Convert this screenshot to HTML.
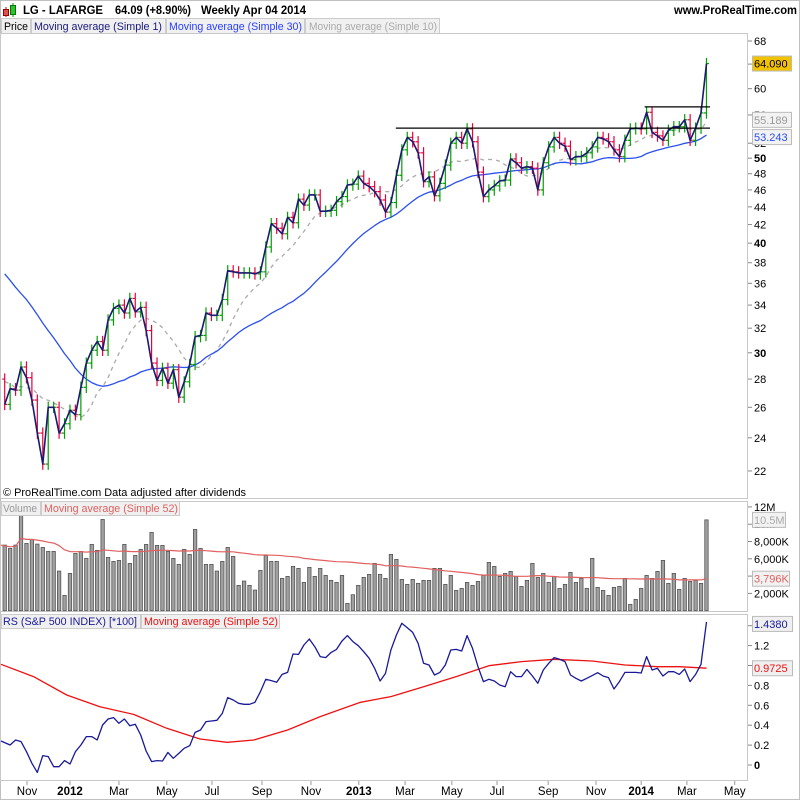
<!DOCTYPE html>
<html><head><meta charset="utf-8"><title>LG - LAFARGE weekly</title>
<style>
html,body{margin:0;padding:0;background:#fff;}
body{width:800px;height:800px;overflow:hidden;font-family:"Liberation Sans",Arial,sans-serif;}
svg text{font-family:"Liberation Sans",Arial,sans-serif;}
</style></head>
<body>
<svg id="chart" width="800" height="800" viewBox="0 0 800 800" xmlns="http://www.w3.org/2000/svg">
  <rect x="0.5" y="0.5" width="799" height="799" fill="#fff" stroke="#c0c0c0"/>
  <g>
    <g>
      <line x1="6" y1="7" x2="6" y2="17" stroke="#c00"/><rect x="3.5" y="9.5" width="5" height="6" fill="#e05050" stroke="#900"/>
      <line x1="13" y1="3" x2="13" y2="17" stroke="#080"/><rect x="10.5" y="5.5" width="5" height="9" fill="#30c030" stroke="#070"/>
    </g>
    <text x="23" y="14" font-size="12" font-weight="bold" fill="#000" textLength="80" lengthAdjust="spacingAndGlyphs">LG - LAFARGE</text>
    <text x="115" y="14" font-size="12" font-weight="bold" fill="#000" textLength="76" lengthAdjust="spacingAndGlyphs">64.09 (+8.90%)</text>
    <text x="201" y="14" font-size="12" font-weight="bold" fill="#000" textLength="105" lengthAdjust="spacingAndGlyphs">Weekly  Apr 04 2014</text>
    <text x="674" y="14" font-size="12" font-weight="bold" fill="#000" textLength="123" lengthAdjust="spacingAndGlyphs">www.ProRealTime.com</text>
  </g>
  <g font-size="11">
    <rect x="1.5" y="18.5" width="29" height="15" fill="#f0f0f0" stroke="#ccc"/>
    <text x="4" y="30" fill="#000" textLength="24" lengthAdjust="spacingAndGlyphs">Price</text>
    <rect x="31.5" y="18.5" width="134" height="15" fill="#f0f0f0" stroke="#ccc"/>
    <text x="34" y="30" fill="#1a1a80" textLength="128" lengthAdjust="spacingAndGlyphs">Moving average (Simple 1)</text>
    <rect x="166.5" y="18.5" width="138" height="15" fill="#f0f0f0" stroke="#ccc"/>
    <text x="169" y="30" fill="#2a40ff" textLength="133" lengthAdjust="spacingAndGlyphs">Moving average (Simple 30)</text>
    <rect x="305.5" y="18.5" width="134" height="15" fill="#f0f0f0" stroke="#ccc"/>
    <text x="309" y="30" fill="#aaa" textLength="128" lengthAdjust="spacingAndGlyphs">Moving average (Simple 10)</text>
  </g>
  <g id="panels"></g>
</svg>
<script>
// ---- data ----
const closes = [26.2,27.3,27.2,28.9,28.1,26.5,24.3,22.4,26.0,26.0,24.3,24.9,25.8,25.5,27.4,29.2,30.2,30.9,30.2,32.7,33.7,34.0,33.3,34.6,33.4,33.8,31.8,29.2,27.9,28.8,27.7,28.7,26.7,27.8,
29.1,31.3,31.4,33.3,33.1,33.1,34.5,37.2,37.1,37.0,37.0,37.0,36.9,37.1,39.6,42.1,41.6,41.0,42.8,42.2,44.9,44.2,45.4,45.4,43.5,43.5,43.6,44.6,45.2,46.6,46.7,47.7,46.8,46.4,45.8,44.8,43.4,44.5,47.8,51.1,
52.8,52.2,50.7,47.0,47.6,45.3,46.8,49.1,52.0,52.8,52.0,54.0,52.2,48.2,45.2,46.0,46.5,47.1,47.2,49.9,49.4,48.7,48.9,48.7,46.0,49.4,51.5,52.8,52.0,51.6,49.8,50.2,50.2,50.7,51.5,52.8,52.6,52.2,
51.1,50.2,52.4,54.0,54.1,54.0,56.4,53.5,53.0,52.4,53.8,54.3,54.3,55.3,52.4,54.1,56.3,64.09];
const priorCloses = [46,47,46,45,46,45,44,45,44,43,44,42,43,41,40,38,36,33,31,30,29,30,28,29,27,28,26,27,28];
const volumes = [7585,7200,7585,11050,7777,8239,7700,7315,6853,6853,4582,1771,4312,6622,6853,6045,7662,6969,10549,6160,5698,5814,7662,5467,6391,7084,7662,9048,7546,7546,6853,6045,5352,7084,6507,9394,7200,5352,5352,4582,5698,7315,6276,2926,3427,2926,2387,4659,6391,5698,5698,3735,3966,5121,4890,3273,5005,3966,4890,4081,3504,3273,4081,847,1848,2926,
3850,4197,5467,4197,3735,6507,5929,3619,3042,3619,3157,3504,3504,4890,4890,3042,4081,2349,2580,3273,2926,3388,4081,5583,5121,3966,4312,4543,3966,2811,3504,5467,3850,4312,3273,3966,2580,3042,4428,3273,3735,2580,6045,2695,2349,1771,2695,2811,3735,732,1309,2580,4081,3735,4543,5814,3157,4312,2464,3735,3388,3504,3157,10500];
const rs = [0.241,0.201,0.251,0.235,0.134,0.017,-0.074,0.094,0.084,-0.017,-0.017,0.044,0.010,0.134,0.201,0.285,0.285,0.251,0.402,0.462,0.476,0.419,0.462,0.395,0.409,0.302,0.141,0.034,0.044,0.040,0.127,0.067,0.117,0.168,0.194,0.328,0.352,0.436,0.442,0.449,0.519,0.677,0.653,0.620,0.610,0.610,0.630,0.737,0.861,0.848,0.831,0.911,0.931,1.116,1.112,1.206,1.266,1.189,1.089,1.079,1.132,1.162,1.246,1.300,1.240,
1.199,1.139,1.072,0.972,0.844,0.921,1.156,1.307,1.424,1.380,1.333,1.223,1.022,1.005,0.905,0.931,1.005,1.156,1.162,1.146,1.300,1.173,0.988,0.838,0.861,0.844,0.804,0.787,0.938,0.888,0.888,0.961,0.894,0.821,0.955,1.022,1.079,1.062,1.039,0.905,0.871,0.844,0.871,0.898,0.928,0.894,0.878,0.764,0.838,0.931,0.931,0.931,0.925,1.089,0.955,0.972,0.894,0.938,0.938,0.911,0.965,0.838,0.911,1.012,1.438];
const rsMaIdx = [0,5.3,11.4,17.5,23.7,29.8,35.9,40.9,45.8,52,58,65.4,71,77,83,89,95,101,108,114,120,124,129];
const rsMaVal = [1.012,0.888,0.704,0.586,0.509,0.369,0.261,0.228,0.251,0.352,0.486,0.630,0.687,0.787,0.888,0.998,1.039,1.062,1.045,1.005,0.988,0.988,0.9725];
const priceTicks = [22,24,26,28,30,32,34,36,38,40,42,44,46,48,50,52,56,60,64,68];
const boldPriceTicks = [30,40,50];
const volTickVals = [2000,4000,6000,8000,10000,12000];
const volTickLabels = ["2,000K","4,000K","6,000K","8,000K","10M","12M"];
const rsTicks = [0,0.2,0.4,0.6,0.8,1.0,1.2,1.4];
const rsTickLabels = ["0","0.2","0.4","0.6","0.8","1","1.2","1.4"];
const monthIdx = [4.1,12.0,21.0,29.8,38.1,47.3,56.3,65.1,73.6,82.2,90.5,99.9,108.7,117.0,125.4,134.2];
const monthLabels = ["Nov","2012","Mar","May","Jul","Sep","Nov","2013","Mar","May","Jul","Sep","Nov","2014","Mar","May"];
const boldMonths = ["2012","2013","2014"];
const resistance1 = 54.1, resistance1Start = 73;
const resistance2 = 57.2, resistance2Start = 118;

// ---- scales ----
const NS = "http://www.w3.org/2000/svg";
const px = i => 4.7 + 5.44 * i;
const py = p => 41 + 381 * (Math.log(68) - Math.log(p));
const vy = v => 610.7 - v / 2000 * 17.3;
const ry = r => 765 - r * 99.5;
const root = document.getElementById('panels');
function mk(tag, attrs, parent) {
  const e = document.createElementNS(NS, tag);
  for (const k in attrs) e.setAttribute(k, attrs[k]);
  (parent || root).appendChild(e);
  return e;
}
function poly(pts, stroke, w, extra) {
  const a = Object.assign({points: pts.map(p => p[0].toFixed(1) + ',' + p[1].toFixed(1)).join(' '), fill: 'none', stroke: stroke, 'stroke-width': w, 'stroke-linejoin': 'round'}, extra || {});
  return mk('polyline', a);
}

// ---- panel frames ----
let f;
f = mk('rect', {x: 0.5, y: 33.5, width: 747, height: 465, fill: 'none', stroke: '#c8c8c8'});


f = mk('rect', {x: 0.5, y: 501.5, width: 747, height: 110, fill: 'none', stroke: '#c8c8c8'});


f = mk('rect', {x: 0.5, y: 614.5, width: 747, height: 166, fill: 'none', stroke: '#c8c8c8'});



// ---- moving averages of price ----
const full = priorCloses.concat(closes);
const P = priorCloses.length;
function sma(n, i) { let s = 0; for (let k = 0; k < n; k++) s += full[P + i - k]; return s / n; }
const ma10 = closes.map((c, i) => [px(i), py(sma(10, i))]);
const ma30 = closes.map((c, i) => [px(i), py(sma(30, i))]);
let e = poly(ma10, '#aaaaaa', 1.3, {'stroke-dasharray': '4,4'});


e = poly(ma30, '#2a50f0', 1.3);



// ---- OHLC bars ----
const barG = mk('g', {});


closes.forEach((c, i) => {
  const o = i === 0 ? priorCloses[P - 1] : closes[i - 1];
  const hi = Math.max(o, c) * 1.015, lo = Math.min(o, c) * 0.985;
  const col = c >= o ? '#00a000' : '#e8003a';
  const x = px(i);
  const g = mk('g', {stroke: col, 'stroke-width': 1.2}, barG);
  
  
  mk('line', {x1: x, y1: py(hi), x2: x, y2: py(lo)}, g);
  mk('line', {x1: x - 2.5, y1: py(o), x2: x, y2: py(o)}, g);
  mk('line', {x1: x, y1: py(c), x2: x + 2.5, y2: py(c)}, g);
});
e = poly(closes.map((c, i) => [px(i), py(c)]), '#1a1a70', 1.6);



// resistance lines
e = mk('line', {x1: px(resistance1Start) - 6, y1: py(resistance1), x2: 710, y2: py(resistance1), stroke: '#000', 'stroke-width': 1.2});


e = mk('line', {x1: px(resistance2Start) - 2, y1: py(resistance2), x2: 710, y2: py(resistance2), stroke: '#000', 'stroke-width': 1.2});



e = mk('text', {x: 3, y: 496, 'font-size': 11, fill: '#000', textLength: 243, lengthAdjust: 'spacingAndGlyphs'});
e.textContent = '\u00a9 ProRealTime.com  Data adjusted after dividends';



// price axis
priceTicks.forEach(t => {
  const y = py(t);
  mk('line', {x1: 748, y1: y, x2: 752, y2: y, stroke: '#888'});
  const tx = mk('text', {x: 754, y: y + 4, 'font-size': 11, fill: '#000', 'font-weight': boldPriceTicks.includes(t) ? 'bold' : 'normal'});
  tx.textContent = String(t);
  
  
});
function tag(y, txt, fill, color, name, w) {
  const g = mk('g', {});
  
  
  mk('rect', {x: 752.5, y: y - 7.5, width: w || 39, height: 15, fill: fill, stroke: '#bbb'}, g);
  const t = mk('text', {x: 754, y: y + 4, 'font-size': 11, fill: color}, g);
  t.textContent = txt;
}
tag(py(closes[closes.length - 1]), '64.090', '#f2c200', '#000', 'last-price-tag');
tag(py(sma(10, closes.length - 1)) - 2, '55.189', '#f2f2f2', '#999', 'ma10-value-tag');
tag(py(sma(30, closes.length - 1)) + 2, '53.243', '#f2f2f2', '#2a50f0', 'ma30-value-tag');

// ---- volume ----
const vg = mk('g', {});


volumes.forEach((v, i) => {
  const r = mk('rect', {x: px(i) - 1.7, y: vy(v), width: 3.4, height: 610.7 - vy(v), fill: '#a0a0a0', stroke: '#555', 'stroke-width': 0.8}, vg);
  
  
});
const vma = volumes.map((v, i) => { const s = Math.max(0, i - 51); let t = 0; for (let k = s; k <= i; k++) t += volumes[k]; return [px(i), vy(t / (i - s + 1))]; });
vma[0][0] = 1;
e = poly(vma, '#e06060', 1.2);


const vl = mk('g', {'font-size': 11});


mk('rect', {x: 1.5, y: 501.5, width: 39, height: 14, fill: '#f0f0f0', stroke: '#ccc'}, vl);
mk('text', {x: 3, y: 512, fill: '#999', textLength: 34, lengthAdjust: 'spacingAndGlyphs'}, vl).textContent = 'Volume';
mk('rect', {x: 41.5, y: 501.5, width: 138, height: 14, fill: '#f0f0f0', stroke: '#ccc'}, vl);
mk('text', {x: 44, y: 512, fill: '#e06060', textLength: 134, lengthAdjust: 'spacingAndGlyphs'}, vl).textContent = 'Moving average (Simple 52)';
volTickVals.forEach((t, k) => {
  const y = vy(t);
  mk('line', {x1: 748, y1: y, x2: 752, y2: y, stroke: '#888'});
  const tx = mk('text', {x: 754, y: y + 4, 'font-size': 11, fill: '#000'});
  tx.textContent = volTickLabels[k];
  
  
});
tag(vy(volumes[volumes.length - 1]), '10.5M', '#f2f2f2', '#aaa', 'volume-value-tag', 33);
tag(vma[vma.length - 1][1], '3,796K', '#f2f2f2', '#e06060', 'volume-ma-value-tag', 37);

// ---- RS ----
e = poly(rsMaIdx.map((k, j) => [k === 0 ? 1 : px(k), ry(rsMaVal[j])]), '#ee1111', 1.3);


e = poly(rs.map((r, i) => [i === 0 ? 1 : px(i), ry(r)]), '#1a1a99', 1.3);


const rl = mk('g', {'font-size': 11});


mk('rect', {x: 1.5, y: 614.5, width: 139, height: 14, fill: '#f0f0f0', stroke: '#ccc'}, rl);
mk('text', {x: 3, y: 625, fill: '#1a1a99', textLength: 134, lengthAdjust: 'spacingAndGlyphs'}, rl).textContent = 'RS (S&P 500 INDEX) [*100]';
mk('rect', {x: 141.5, y: 614.5, width: 138, height: 14, fill: '#f0f0f0', stroke: '#ccc'}, rl);
mk('text', {x: 144, y: 625, fill: '#ee1111', textLength: 134, lengthAdjust: 'spacingAndGlyphs'}, rl).textContent = 'Moving average (Simple 52)';
rsTicks.forEach((t, k) => {
  const y = ry(t);
  mk('line', {x1: 748, y1: y, x2: 752, y2: y, stroke: '#888'});
  const tx = mk('text', {x: 754, y: y + 4, 'font-size': 11, fill: '#000', 'font-weight': t === 0 ? 'bold' : 'normal'});
  tx.textContent = rsTickLabels[k];
  
  
});
tag(ry(rs[rs.length - 1]) + 2, '1.4380', '#f0f0f0', '#1a1a99', 'rs-value-tag', 40);
tag(ry(rsMaVal[rsMaVal.length - 1]), '0.9725', '#f0f0f0', '#ee1111', 'rs-ma-value-tag', 40);

// ---- time axis ----
monthIdx.forEach((k, j) => {
  const x = px(k);
  mk('line', {x1: x, y1: 781, x2: x, y2: 785, stroke: '#999'});
  const tx = mk('text', {x: x, y: 795, 'font-size': 11.5, 'text-anchor': 'middle', fill: '#000', 'font-weight': boldMonths.includes(monthLabels[j]) ? 'bold' : 'normal'});
  tx.textContent = monthLabels[j];
  
  
});
</script>
</body></html>
